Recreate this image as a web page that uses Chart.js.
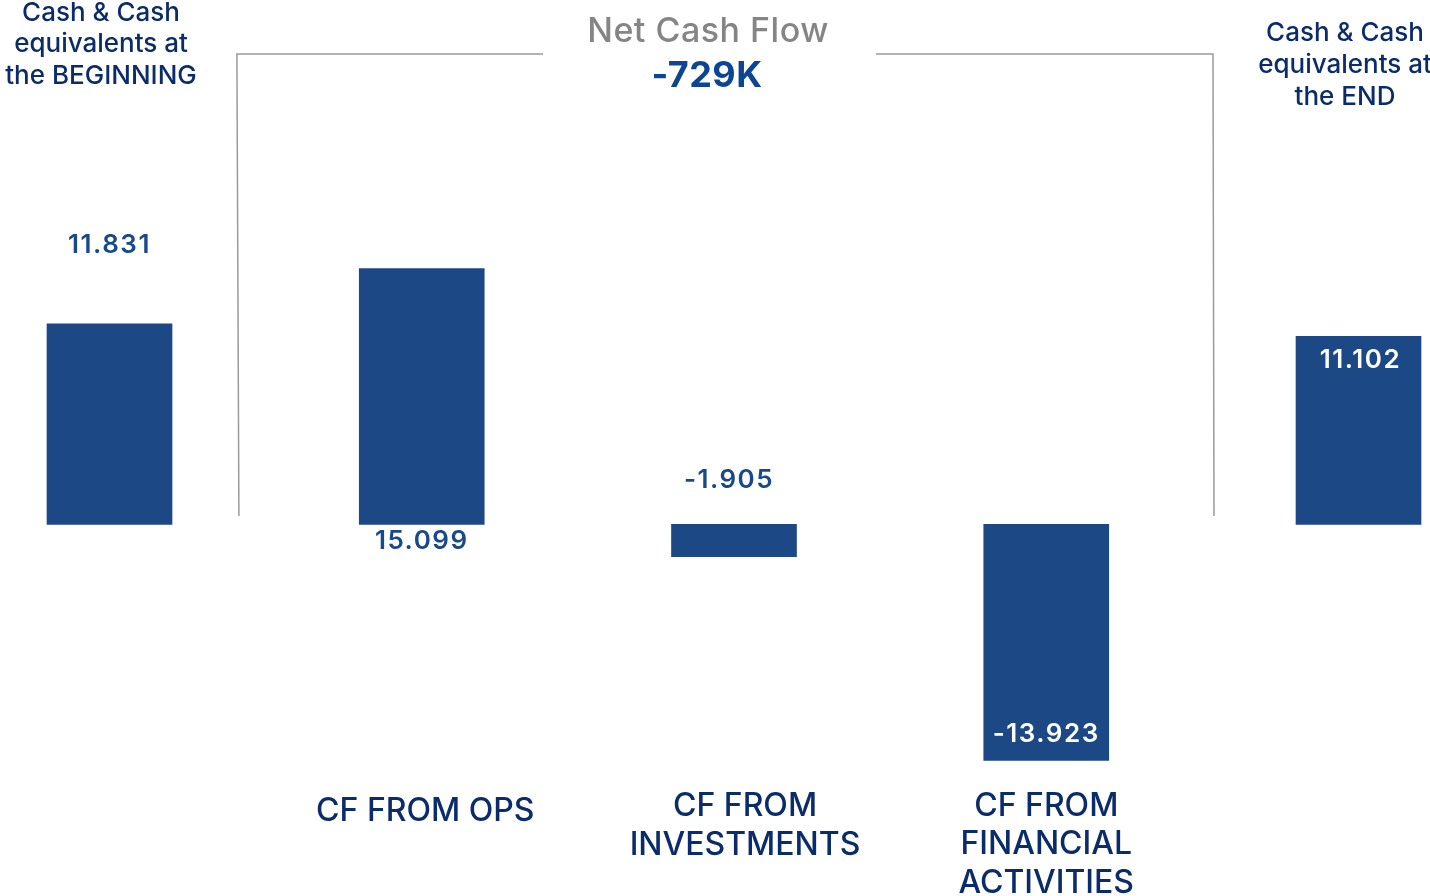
<!DOCTYPE html>
<html>
<head>
<meta charset="utf-8">
<script src="https://cdn.jsdelivr.net/npm/chart.js@4.4.1/dist/chart.umd.min.js"></script>
<style>
  html, body { margin: 0; padding: 0; background: #fff; }
  #wrap { width: 1430px; height: 896px; }
</style>
</head>
<body>
<div id="wrap"><canvas id="cf" width="1430" height="896"></canvas></div>
<script>
// data
const categories = [
  ['Cash & Cash', 'equivalents at', 'the BEGINNING'],
  ['CF FROM OPS'],
  ['CF FROM', 'INVESTMENTS'],
  ['CF FROM', 'FINANCIAL', 'ACTIVITIES'],
  ['Cash & Cash', 'equivalents at', 'the END']
];
const positions = [0, 1, 2, 3, 4];
const values = [11.831, 15.099, -1.905, -13.923, 11.102];
const valueLabels = ['11.831', '15.099', '-1.905', '-13.923', '11.102'];
const netTitle = 'Net Cash Flow';
const netValue = '-729K';

const NAVY = '#0b2c6a';
const BAR = '#1d4886';
const VAL = '#17498c';
const FONT = 'Inter, "DejaVu Sans", sans-serif';

// how each label sits relative to its bar: [x offset, y offset, anchor, colour]
const valuePlace = [
  [0, -79, 'top', VAL],
  [0, 17, 'base', VAL],
  [-5, -44, 'base', VAL],
  [0, -26, 'end', '#ffffff'],
  [2, 24, 'top', '#ffffff']
];
// category text: [x offset, first line y, line gap]
const catPlace = [
  [-8.5, 13, 31.5],
  [3.5, 811, 39],
  [11, 806, 39],
  [0, 806, 38.5],
  [-13.5, 33, 32]
];

const overlay = {
  id: 'overlay',
  afterDatasetsDraw(chart) {
    const ctx = chart.ctx;
    const xs = chart.scales.x, ys = chart.scales.y;
    const bars = chart.getDatasetMeta(0).data;
    ctx.save();
    ctx.textAlign = 'center';
    ctx.textBaseline = 'middle';

    // bracket around the cash flow bars
    const yTop = ys.getPixelForValue(27.76);
    const yBot = ys.getPixelForValue(0.5);
    const xl = xs.getPixelForValue(0.408), xr = xs.getPixelForValue(3.534);
    ctx.strokeStyle = '#9a9a9a';
    ctx.lineWidth = 1.5;
    ctx.beginPath();
    ctx.moveTo(xl + 2, yBot); ctx.lineTo(xl, yTop); ctx.lineTo(543, yTop);
    ctx.moveTo(876, yTop); ctx.lineTo(xr, yTop); ctx.lineTo(xr + 1, yBot);
    ctx.stroke();

    // title
    ctx.fillStyle = '#858585';
    ctx.font = '500 34px ' + FONT;
    ctx.letterSpacing = '0.5px';
    ctx.fillText(netTitle, 708, 32);
    ctx.fillStyle = '#0c4594';
    ctx.font = '700 36px ' + FONT;
    ctx.letterSpacing = '0.5px';
    ctx.fillText(netValue, 707, 76);

    // value labels
    ctx.font = '600 26px ' + FONT;
    ctx.letterSpacing = '1.5px';
    bars.forEach((b, i) => {
      const p = valuePlace[i];
      const top = Math.min(b.y, b.base), end = b.y;
      let y = p[2] === 'top' ? top : p[2] === 'base' ? b.base : end;
      ctx.fillStyle = p[3];
      ctx.fillText(valueLabels[i], b.x + p[0], y + p[1]);
    });

    // category labels
    ctx.letterSpacing = '0px';
    bars.forEach((b, i) => {
      const p = catPlace[i];
      const edge = i === 0 || i === 4;
      ctx.fillStyle = NAVY;
      ctx.font = edge ? '500 26px ' + FONT : '500 32px ' + FONT;
      categories[i].forEach((line, k) => {
        ctx.fillText(line, b.x + p[0], p[1] + k * p[2]);
      });
    });
    ctx.restore();
  }
};

new Chart(document.getElementById('cf'), {
  type: 'bar',
  data: {
    datasets: [{
      data: positions.map((x, i) => ({ x: x, y: values[i] })),
      backgroundColor: BAR,
      borderWidth: 0,
      barThickness: 125
    }]
  },
  options: {
    responsive: false,
    animation: false,
    layout: { padding: 0 },
    plugins: { legend: { display: false }, tooltip: { enabled: false } },
    scales: {
      x: { type: 'linear', offset: false, min: -0.35068, max: 4.22898, display: false },
      y: { min: -21.92, max: 30.94, display: false }
    }
  },
  plugins: [overlay]
});
</script>
</body>
</html>
